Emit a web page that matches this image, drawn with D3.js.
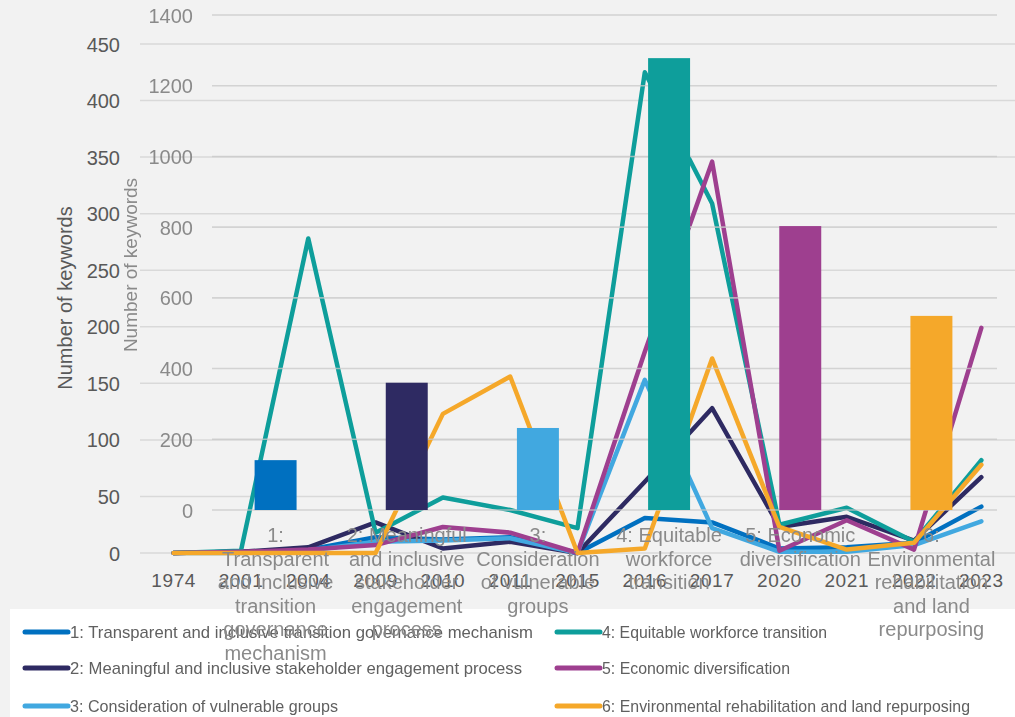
<!DOCTYPE html>
<html><head><meta charset="utf-8">
<script src="https://cdn.jsdelivr.net/npm/d3@7/dist/d3.min.js"></script>
<style>html,body{margin:0;padding:0;background:#f2f2f2;}svg{display:block;}</style>
</head><body>
<svg id="chart" width="1015" height="717"></svg>
<script>
// ---- Data: line chart (keywords per year) ----
const years = ["1974","2001","2004","2009","2010","2011","2015","2016","2017","2020","2021","2022","2023"];
const seriesNames = [
  "1: Transparent and inclusive transition governance mechanism",
  "2: Meaningful and inclusive stakeholder engagement process",
  "3: Consideration of vulnerable groups",
  "4: Equitable workforce transition",
  "5: Economic diversification",
  "6: Environmental rehabilitation and land repurposing"
];
const s1 = [0, 1, 3, 14, 12, 14, 0, 31, 27, 4, 5, 9, 41];
const s2 = [0, 1, 5, 27, 4, 10, 0, 63, 128, 23, 32, 11, 67];
const s3 = [0, 0, 2, 10, 11, 13, 0, 153, 22, 1, 1, 7, 28];
const s4 = [0, 2, 278, 18, 49, 38, 22, 425, 309, 25, 40, 10, 82];
const s5 = [0, 1, 3, 7, 23, 18, 0, 178, 346, 2, 29, 3, 199];
const s6 = [0, 0, 0, 0, 123, 156, 0, 4, 172, 23, 3, 9, 78];
const lineTicks = [0, 50, 100, 150, 200, 250, 300, 350, 400, 450];

// ---- Data: bar chart (total keywords per category) ----
const barLabelLines = [
  ["1:", "Transparent", "and inclusive", "transition", "governance", "mechanism"],
  ["2: Meaningful", "and inclusive", "stakeholder", "engagement", "process"],
  ["3:", "Consideration", "of vulnerable", "groups"],
  ["4: Equitable", "workforce", "transition"],
  ["5: Economic", "diversification"],
  ["6:", "Environmental", "rehabilitation", "and land", "repurposing"]
];
const barValues = [141, 360, 232, 1278, 803, 549];
const barTicks = [0, 200, 400, 600, 800, 1000, 1200, 1400];

const colors = ["#0070c0", "#2e2a62", "#41a8e0", "#0e9e9b", "#9e3f8f", "#f5a82a"];
const allSeries = [s1, s2, s3, s4, s5, s6];

const svg = d3.select("#chart");
const defs = svg.append("defs");
defs.append("filter").attr("id", "soft").append("feGaussianBlur").attr("stdDeviation", 0.55);

svg.append("rect").attr("width", 1015).attr("height", 717).attr("fill", "#f2f2f2");

// ===== Line chart layer =====
const xA = d3.scaleBand().domain(years).range([140, 1015]);
const yA = d3.scaleLinear().domain([0, 450]).range([553, 44]);
const FONT = "Liberation Sans, Arial, sans-serif";

const gA = svg.append("g");
gA.selectAll("line.gridA").data(lineTicks).join("line")
  .attr("x1", 140).attr("x2", 1015)
  .attr("y1", d => yA(d)).attr("y2", d => yA(d))
  .attr("stroke", "#d9d9d9").attr("stroke-width", 1.5);

const yAxisA = d3.axisLeft(yA).tickValues(lineTicks).tickFormat(d3.format("d")).tickSize(0).tickPadding(0);
const gyA = gA.append("g").attr("transform", "translate(120,0)").call(yAxisA);
gyA.select(".domain").remove();
gyA.selectAll("text").attr("font-family", FONT).attr("font-size", 20).attr("fill", "#595959").attr("dy", "0.35em");

const xAxisA = d3.axisBottom(xA).tickSize(0).tickPadding(0);
const gxA = gA.append("g").attr("transform", "translate(0,570)").call(xAxisA);
gxA.select(".domain").remove();
gxA.selectAll("text").attr("font-family", FONT).attr("font-size", 19).attr("fill", "#595959")
  .attr("dy", "0.9em").attr("letter-spacing", 0.6);

gA.append("text").attr("transform", "translate(72,298) rotate(-90)")
  .attr("text-anchor", "middle").attr("font-family", FONT).attr("font-size", 20)
  .attr("fill", "#595959").text("Number of keywords");

const lineGen = d3.line().x((d, i) => xA(years[i]) + xA.bandwidth() / 2).y(d => yA(d));
gA.selectAll("path.series").data(allSeries).join("path")
  .attr("d", d => lineGen(d))
  .attr("fill", "none")
  .attr("stroke", (d, i) => colors[i])
  .attr("stroke-width", 4.5)
  .attr("stroke-linejoin", "round").attr("stroke-linecap", "round");

// legend
const gL = svg.append("g");
gL.append("rect").attr("x", 10).attr("y", 609).attr("width", 1005).attr("height", 108).attr("fill", "#ffffff");
const legPos = [
  {x: 25, y: 632, w: 463}, {x: 25, y: 668, w: 452}, {x: 25, y: 706, w: 268},
  {x: 557, y: 632, w: 225}, {x: 557, y: 668, w: 188}, {x: 557, y: 706, w: 368}
];
seriesNames.forEach((name, i) => {
  const p = legPos[i];
  gL.append("line").attr("x1", p.x).attr("x2", p.x + 43).attr("y1", p.y).attr("y2", p.y)
    .attr("stroke", colors[i]).attr("stroke-width", 5).attr("stroke-linecap", "round");
  gL.append("text").attr("x", p.x + 45).attr("y", p.y + 6)
    .attr("font-family", "Liberation Sans Narrow, Liberation Sans, Arial, sans-serif")
    .attr("font-size", 17).attr("fill", "#606060")
    .attr("textLength", p.w).attr("lengthAdjust", "spacingAndGlyphs")
    .attr("filter", "url(#soft)")
    .text(name);
});

// ===== Bar chart layer (overlaid) =====
const xB = d3.scaleBand().domain(d3.range(barValues.length)).range([210, 997]).paddingInner(0.68).paddingOuter(0.34);
const yB = d3.scaleLinear().domain([0, 1400]).range([510, 15]);
const gB = svg.append("g");

gB.selectAll("line.gridB").data(barTicks).join("line")
  .attr("x1", 212).attr("x2", 997)
  .attr("y1", d => yB(d)).attr("y2", d => yB(d))
  .attr("stroke", "#c8c8c8").attr("stroke-opacity", 0.75).attr("stroke-width", 1.6);

gB.selectAll("rect.bar").data(barValues).join("rect")
  .attr("x", (d, i) => xB(i)).attr("width", xB.bandwidth())
  .attr("y", d => yB(d)).attr("height", d => yB(0) - yB(d))
  .attr("fill", (d, i) => colors[i]);

const yAxisB = d3.axisLeft(yB).tickValues(barTicks).tickFormat(d3.format("d")).tickSize(0).tickPadding(0);
const gyB = gB.append("g").attr("transform", "translate(193,0)").call(yAxisB);
gyB.select(".domain").remove();
gyB.selectAll("text").attr("font-family", FONT).attr("font-size", 20).attr("fill", "#8a8a8a")
  .attr("dy", "0.35em").attr("filter", "url(#soft)");

gB.append("text").attr("transform", "translate(137,265) rotate(-90)")
  .attr("text-anchor", "middle").attr("font-family", FONT).attr("font-size", 19)
  .attr("fill", "#8a8a8a").attr("filter", "url(#soft)").text("Number of keywords");

barLabelLines.forEach((lines, i) => {
  const t = gB.append("text").attr("text-anchor", "middle")
    .attr("font-family", FONT).attr("font-size", 20).attr("fill", "#8a8a8a")
    .attr("filter", "url(#soft)");
  lines.forEach((ln, j) => {
    t.append("tspan").attr("x", xB(i) + xB.bandwidth() / 2).attr("y", 542 + j * 23.6).text(ln);
  });
});
</script>
</body></html>
